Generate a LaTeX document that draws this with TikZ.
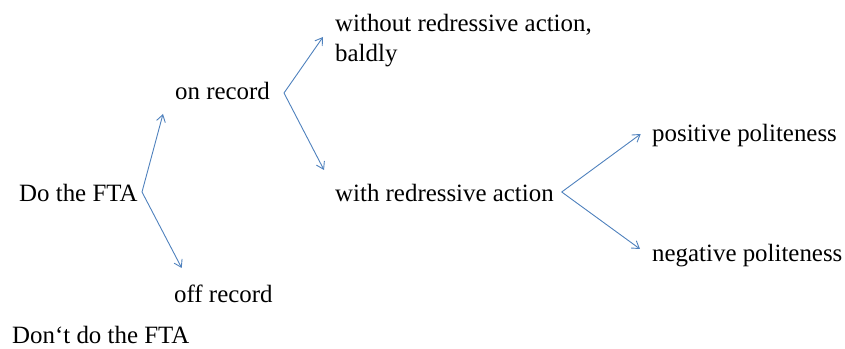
\documentclass[tikz,border=0pt]{standalone}
\usepackage{fontspec}
\setmainfont{Liberation Serif}
\usetikzlibrary{arrows.meta}
\definecolor{arrblue}{RGB}{79,129,189}
\begin{document}
\begin{tikzpicture}[x=1pt,y=1pt,
  lbl/.style={anchor=base west,inner sep=0pt,font=\fontsize{24.9}{29}\selectfont,text=black},
  arr/.style={draw=arrblue,line width=0.9pt,-{Straight Barb[length=7pt,width=9pt]}}]
\useasboundingbox (0,0) rectangle (845,348);
% nodes
\node[lbl] (dofta) at (19,146) {Do the FTA};
\node[lbl] (dont) at (12,4.5) {Don‘t do the FTA};
\node[lbl] (onrec) at (175,248) {on record};
\node[lbl] (offrec) at (174,46) {off record};
\node[lbl] (without) at (335,316) {without redressive action,};
\node[lbl] (baldly) at (335,286) {baldly};
\node[lbl] (withred) at (335,146) {with redressive action};
\node[lbl] (pos) at (652,206) {positive politeness};
\node[lbl] (neg) at (652,86) {negative politeness};
% fork and end points
\coordinate (f1) at (142,156);
\coordinate (e1) at (163,234);
\coordinate (e2) at (181.7,80);
\coordinate (f2) at (284,255);
\coordinate (e3) at (323,311);
\coordinate (e4) at (324,178);
\coordinate (f3) at (561.7,156);
\coordinate (e5) at (640.7,214);
\coordinate (e6) at (640,99);
% connectors
\draw[arr] (f1) -- (e1);
\draw[arr] (f1) -- (e2);
\draw[arr] (f2) -- (e3);
\draw[arr] (f2) -- (e4);
\draw[arr] (f3) -- (e5);
\draw[arr] (f3) -- (e6);
\end{tikzpicture}
\end{document}
